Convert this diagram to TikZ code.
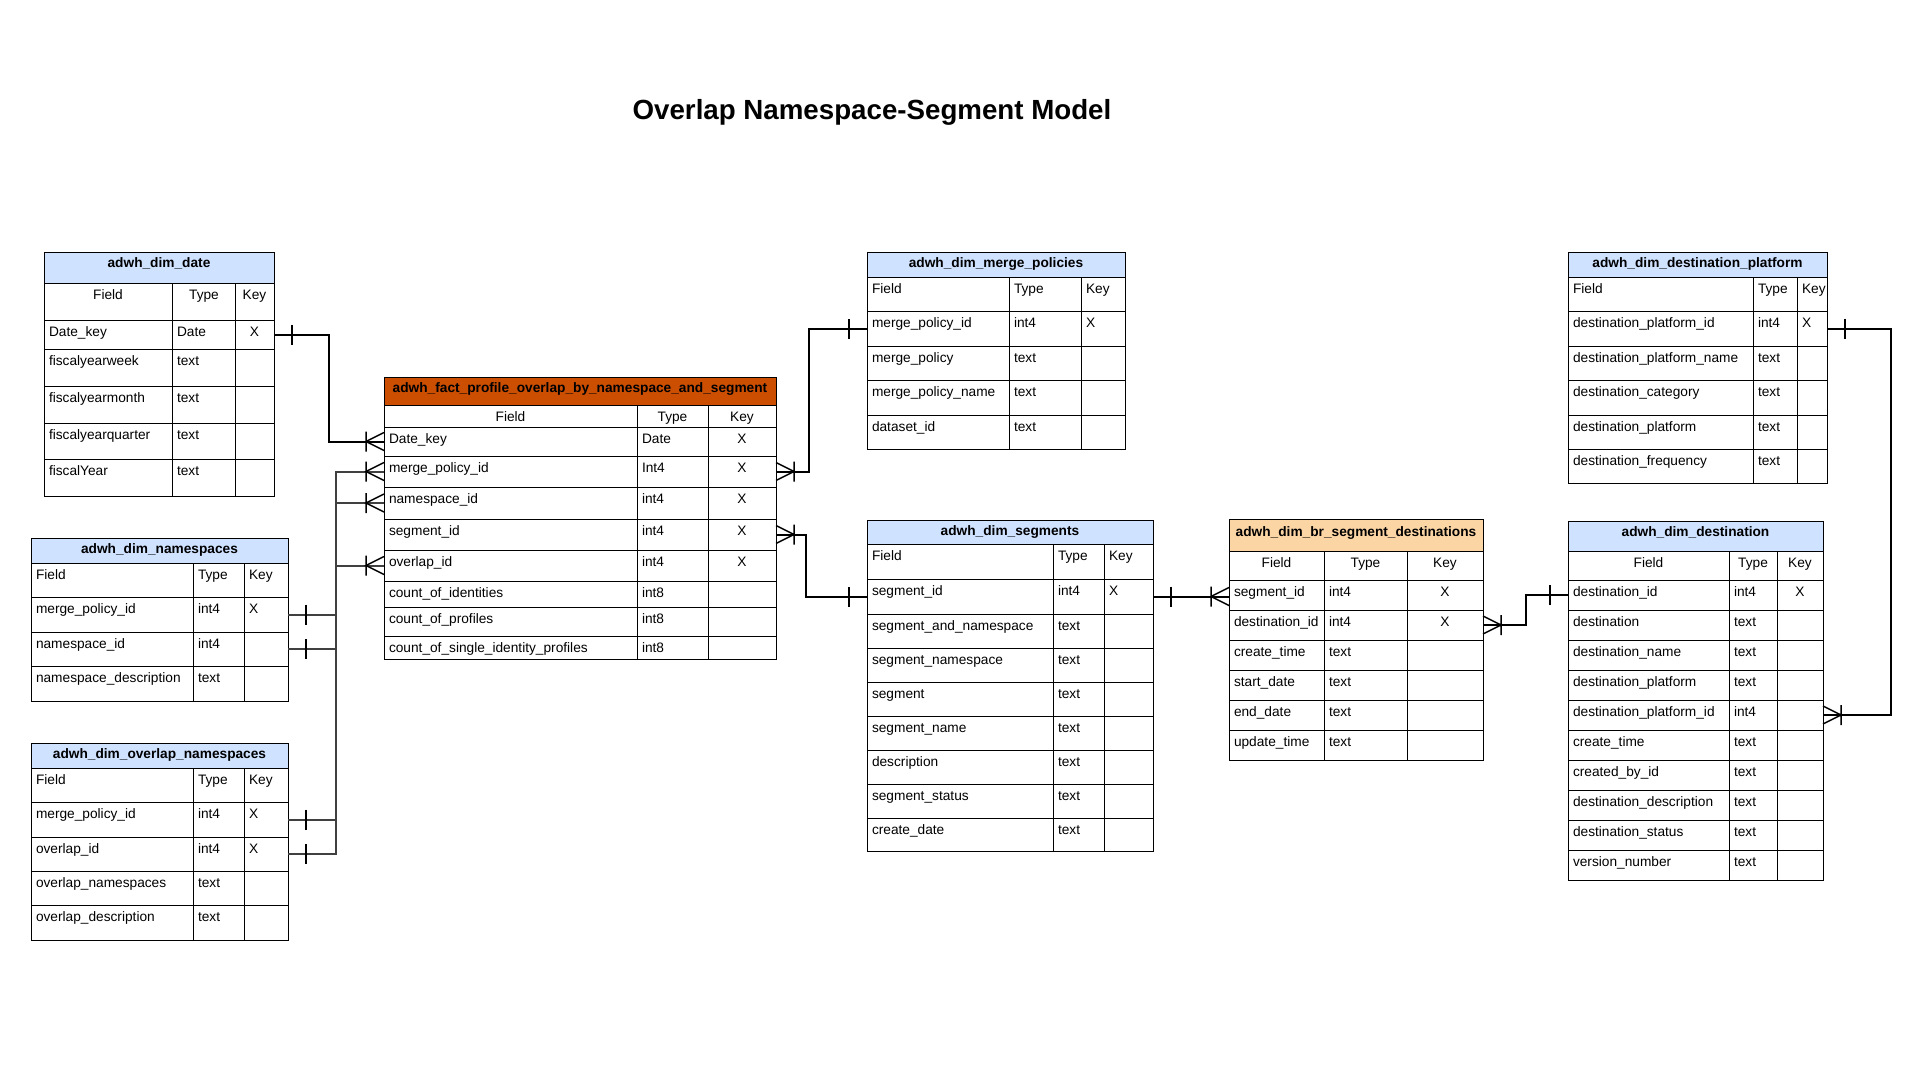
\documentclass[tikz,border=0pt]{standalone}
\usepackage{fontspec}
\setmainfont{Liberation Sans}

\begin{document}
\begin{tikzpicture}[x=1pt,y=-1pt,
  font=\fontsize{13.7}{16}\selectfont,
  every node/.style={inner sep=0pt,outer sep=0pt},
  cellbox/.style={draw,line width=0.9pt,anchor=north west},
  txt/.style={anchor=base west},
  mid/.style={anchor=base},
  ttl/.style={anchor=base,font=\bfseries\fontsize{13.7}{16}\selectfont},
  grid/.style={line width=0.9pt},
  link/.style={line width=2pt},
  one/.pic={\draw[line width=1.5pt] (18,-10) -- (18,10);},
  many/.pic={\draw[line width=1.5pt] (0,-9) -- (18,0) -- (0,9) (18,-10) -- (18,10);}]
 \definecolor{hblue}{RGB}{207,226,255}
 \definecolor{hfact}{RGB}{204,78,0}
 \definecolor{hbr}{RGB}{252,213,165}
 \fill[white] (0,0) rectangle (1920,1080);
 \useasboundingbox (0,0) rectangle (1920,1080);

 \node[anchor=base,font=\bfseries\fontsize{27.7}{34}\selectfont] (title) at (872,119)
   {Overlap Namespace-Segment Model};

 % adwh_dim_date
 \node[cellbox,fill=hblue,minimum width=230,minimum height=31] (date) at (44,252) {};
 \node[ttl] (date-t) at (159,267.5) {adwh\_dim\_date};
 \node[cellbox,minimum width=230,minimum height=37] (date-0) at (44,283) {};
 \node[mid] (date-0-f) at (108,299.5) {Field};
 \node[mid] (date-0-t) at (204,299.5) {Type};
 \node[mid] (date-0-k) at (254.5,299.5) {Key};
 \foreach \yt/\yb/\fd/\tp/\ky [count=\n] in {
   320/349/Date\_key/Date/X, 349/386/fiscalyearweek/text/{},
   386/423/fiscalyearmonth/text/{}, 423/459/fiscalyearquarter/text/{},
   459/496/fiscalYear/text/{}
 } {
   \node[cellbox,minimum width=230,minimum height=\yb-\yt] (date-\n) at (44,\yt) {};
   \node[txt] (date-\n-f) at (49,\yt+16) {\fd};
   \node[txt] (date-\n-t) at (177,\yt+16) {\tp};
   \node[mid] (date-\n-k) at (254.5,\yt+16) {\ky};
 }
 \draw[grid] (172,283) -- (172,496) (235,283) -- (235,496);

 % adwh_dim_namespaces
 \node[cellbox,fill=hblue,minimum width=257,minimum height=25] (ns) at (31,538) {};
 \node[ttl] (ns-t) at (159.5,553.5) {adwh\_dim\_namespaces};
 \node[cellbox,minimum width=257,minimum height=34] (ns-0) at (31,563) {};
 \node[txt] (ns-0-f) at (36,579) {Field};
 \node[txt] (ns-0-t) at (198,579) {Type};
 \node[txt] (ns-0-k) at (249,579) {Key};
 \foreach \yt/\yb/\fd/\tp/\ky [count=\n] in {
   597/632/merge\_policy\_id/int4/X, 632/666/namespace\_id/int4/{},
   666/701/namespace\_description/text/{}
 } {
   \node[cellbox,minimum width=257,minimum height=\yb-\yt] (ns-\n) at (31,\yt) {};
   \node[txt] (ns-\n-f) at (36,\yt+16) {\fd};
   \node[txt] (ns-\n-t) at (198,\yt+16) {\tp};
   \node[txt] (ns-\n-k) at (249,\yt+16) {\ky};
 }
 \draw[grid] (193,563) -- (193,701) (244,563) -- (244,701);

 % adwh_dim_overlap_namespaces
 \node[cellbox,fill=hblue,minimum width=257,minimum height=25] (ov) at (31,743) {};
 \node[ttl] (ov-t) at (159.5,758.5) {adwh\_dim\_overlap\_namespaces};
 \node[cellbox,minimum width=257,minimum height=34] (ov-0) at (31,768) {};
 \node[txt] (ov-0-f) at (36,784) {Field};
 \node[txt] (ov-0-t) at (198,784) {Type};
 \node[txt] (ov-0-k) at (249,784) {Key};
 \foreach \yt/\yb/\fd/\tp/\ky [count=\n] in {
   802/837/merge\_policy\_id/int4/X, 837/871/overlap\_id/int4/X,
   871/905/overlap\_namespaces/text/{}, 905/940/overlap\_description/text/{}
 } {
   \node[cellbox,minimum width=257,minimum height=\yb-\yt] (ov-\n) at (31,\yt) {};
   \node[txt] (ov-\n-f) at (36,\yt+16) {\fd};
   \node[txt] (ov-\n-t) at (198,\yt+16) {\tp};
   \node[txt] (ov-\n-k) at (249,\yt+16) {\ky};
 }
 \draw[grid] (193,768) -- (193,940) (244,768) -- (244,940);

 % adwh_fact_profile_overlap_by_namespace_and_segment
 \node[cellbox,fill=hfact,minimum width=392,minimum height=28] (fact) at (384,377) {};
 \node[ttl] (fact-t) at (580,392.5) {adwh\_fact\_profile\_overlap\_by\_namespace\_and\_segment};
 \node[cellbox,minimum width=392,minimum height=22] (fact-0) at (384,405) {};
 \node[mid] (fact-0-f) at (510.5,421) {Field};
 \node[mid] (fact-0-t) at (672.5,421) {Type};
 \node[mid] (fact-0-k) at (742,421) {Key};
 \foreach \yt/\yb/\fd/\tp/\ky [count=\n] in {
   427/456/Date\_key/Date/X, 456/487/merge\_policy\_id/Int4/X,
   487/519/namespace\_id/int4/X, 519/550/segment\_id/int4/X,
   550/581/overlap\_id/int4/X, 581/607/count\_of\_identities/int8/{},
   607/636/count\_of\_profiles/int8/{},
   636/659/count\_of\_single\_identity\_profiles/int8/{}
 } {
   \node[cellbox,minimum width=392,minimum height=\yb-\yt] (fact-\n) at (384,\yt) {};
   \node[txt] (fact-\n-f) at (389,\yt+16) {\fd};
   \node[txt] (fact-\n-t) at (642,\yt+16) {\tp};
   \node[mid] (fact-\n-k) at (742,\yt+16) {\ky};
 }
 \draw[grid] (637,405) -- (637,659) (708,405) -- (708,659);

 % adwh_dim_merge_policies
 \node[cellbox,fill=hblue,minimum width=258,minimum height=25] (mp) at (867,252) {};
 \node[ttl] (mp-t) at (996,267.5) {adwh\_dim\_merge\_policies};
 \node[cellbox,minimum width=258,minimum height=34] (mp-0) at (867,277) {};
 \node[txt] (mp-0-f) at (872,293) {Field};
 \node[txt] (mp-0-t) at (1014,293) {Type};
 \node[txt] (mp-0-k) at (1086,293) {Key};
 \foreach \yt/\yb/\fd/\tp/\ky [count=\n] in {
   311/346/merge\_policy\_id/int4/X, 346/380/merge\_policy/text/{},
   380/415/merge\_policy\_name/text/{}, 415/449/dataset\_id/text/{}
 } {
   \node[cellbox,minimum width=258,minimum height=\yb-\yt] (mp-\n) at (867,\yt) {};
   \node[txt] (mp-\n-f) at (872,\yt+16) {\fd};
   \node[txt] (mp-\n-t) at (1014,\yt+16) {\tp};
   \node[txt] (mp-\n-k) at (1086,\yt+16) {\ky};
 }
 \draw[grid] (1009,277) -- (1009,449) (1081,277) -- (1081,449);

 % adwh_dim_segments
 \node[cellbox,fill=hblue,minimum width=286,minimum height=24] (seg) at (867,520) {};
 \node[ttl] (seg-t) at (1010,535.5) {adwh\_dim\_segments};
 \node[cellbox,minimum width=286,minimum height=35] (seg-0) at (867,544) {};
 \node[txt] (seg-0-f) at (872,560) {Field};
 \node[txt] (seg-0-t) at (1058,560) {Type};
 \node[txt] (seg-0-k) at (1109,560) {Key};
 \foreach \yt/\yb/\fd/\tp/\ky [count=\n] in {
   579/614/segment\_id/int4/X, 614/648/segment\_and\_namespace/text/{},
   648/682/segment\_namespace/text/{}, 682/716/segment/text/{},
   716/750/segment\_name/text/{}, 750/784/description/text/{},
   784/818/segment\_status/text/{}, 818/851/create\_date/text/{}
 } {
   \node[cellbox,minimum width=286,minimum height=\yb-\yt] (seg-\n) at (867,\yt) {};
   \node[txt] (seg-\n-f) at (872,\yt+16) {\fd};
   \node[txt] (seg-\n-t) at (1058,\yt+16) {\tp};
   \node[txt] (seg-\n-k) at (1109,\yt+16) {\ky};
 }
 \draw[grid] (1053,544) -- (1053,851) (1104,544) -- (1104,851);

 % adwh_dim_br_segment_destinations
 \node[cellbox,fill=hbr,minimum width=254,minimum height=32] (br) at (1229,519) {};
 \node[ttl] (br-t) at (1356,536) {adwh\_dim\_br\_segment\_destinations};
 \node[cellbox,minimum width=254,minimum height=29] (br-0) at (1229,551) {};
 \node[mid] (br-0-f) at (1276.5,567) {Field};
 \node[mid] (br-0-t) at (1365.5,567) {Type};
 \node[mid] (br-0-k) at (1445,567) {Key};
 \foreach \yt/\fd/\tp/\ky [count=\n] in {
   580/segment\_id/int4/X, 610/destination\_id/int4/X,
   640/create\_time/text/{}, 670/start\_date/text/{},
   700/end\_date/text/{}, 730/update\_time/text/{}
 } {
   \node[cellbox,minimum width=254,minimum height=30] (br-\n) at (1229,\yt) {};
   \node[txt] (br-\n-f) at (1234,\yt+16.5) {\fd};
   \node[txt] (br-\n-t) at (1329,\yt+16.5) {\tp};
   \node[mid] (br-\n-k) at (1445,\yt+16.5) {\ky};
 }
 \draw[grid] (1324,551) -- (1324,760) (1407,551) -- (1407,760);

 % adwh_dim_destination_platform
 \node[cellbox,fill=hblue,minimum width=259,minimum height=25] (plat) at (1568,252) {};
 \node[ttl] (plat-t) at (1697.5,267.5) {adwh\_dim\_destination\_platform};
 \node[cellbox,minimum width=259,minimum height=34] (plat-0) at (1568,277) {};
 \node[txt] (plat-0-f) at (1573,293) {Field};
 \node[txt] (plat-0-t) at (1758,293) {Type};
 \node[txt] (plat-0-k) at (1802,293) {Key};
 \foreach \yt/\yb/\fd/\tp/\ky [count=\n] in {
   311/346/destination\_platform\_id/int4/X,
   346/380/destination\_platform\_name/text/{},
   380/415/destination\_category/text/{},
   415/449/destination\_platform/text/{},
   449/483/destination\_frequency/text/{}
 } {
   \node[cellbox,minimum width=259,minimum height=\yb-\yt] (plat-\n) at (1568,\yt) {};
   \node[txt] (plat-\n-f) at (1573,\yt+16) {\fd};
   \node[txt] (plat-\n-t) at (1758,\yt+16) {\tp};
   \node[txt] (plat-\n-k) at (1802,\yt+16) {\ky};
 }
 \draw[grid] (1753,277) -- (1753,483) (1797,277) -- (1797,483);

 % adwh_dim_destination
 \node[cellbox,fill=hblue,minimum width=255,minimum height=30] (dst) at (1568,521) {};
 \node[ttl] (dst-t) at (1695.5,536) {adwh\_dim\_destination};
 \node[cellbox,minimum width=255,minimum height=29] (dst-0) at (1568,551) {};
 \node[mid] (dst-0-f) at (1648.5,567) {Field};
 \node[mid] (dst-0-t) at (1753,567) {Type};
 \node[mid] (dst-0-k) at (1800,567) {Key};
 \foreach \yt/\fd/\tp/\ky [count=\n] in {
   580/destination\_id/int4/X, 610/destination/text/{},
   640/destination\_name/text/{}, 670/destination\_platform/text/{},
   700/destination\_platform\_id/int4/{}, 730/create\_time/text/{},
   760/created\_by\_id/text/{}, 790/destination\_description/text/{},
   820/destination\_status/text/{}, 850/version\_number/text/{}
 } {
   \node[cellbox,minimum width=255,minimum height=30] (dst-\n) at (1568,\yt) {};
   \node[txt] (dst-\n-f) at (1573,\yt+16.5) {\fd};
   \node[txt] (dst-\n-t) at (1734,\yt+16.5) {\tp};
   \node[mid] (dst-\n-k) at (1800,\yt+16.5) {\ky};
 }
 \draw[grid] (1729,551) -- (1729,880) (1777,551) -- (1777,880);

 % relations
 \draw[link] (date-1.east) -- ++(55,0) |- (fact-1.west);
 \draw[link,black!75] (ns-1.east) -- ++(48,0) |- (fact-2.west);
 \draw[link,black!75] (ns-2.east) -- ++(48,0) |- (fact-3.west);
 \draw[link,black!75] (ov-1.east) -- ++(48,0) |- (fact-2.west);
 \draw[link,black!75] (ov-2.east) -- ++(48,0) |- (fact-5.west);
 \draw[link] (fact-2.east) -- ++(33,0) |- (mp-1.west);
 \draw[link] (fact-4.east) -- ++(30,0) |- (seg-1.west);
 \draw[link] (seg-1.east) -- (seg-1.east -| br-1.west);
 \draw[link] (br-2.east) -- ++(43,0) |- (dst-1.west);
 \draw[link] (plat-1.east) -- ++(64,0) |- (dst-5.east);

 % cardinality marks
 \foreach \p in {date-1,ns-1,ns-2,ov-1,ov-2,seg-1,plat-1}
   \pic at (\p.east) {one};
 \foreach \p in {mp-1,seg-1,dst-1}
   \pic[rotate=180] at (\p.west) {one};
 \foreach \p in {fact-1,fact-2,fact-3,fact-5}
   \pic[rotate=180] at (\p.west) {many};
 \foreach \p in {fact-2,fact-4,br-2,dst-5}
   \pic at (\p.east) {many};
 \pic[rotate=180] at (seg-1.east -| br-1.west) {many};
\end{tikzpicture}
\end{document}
